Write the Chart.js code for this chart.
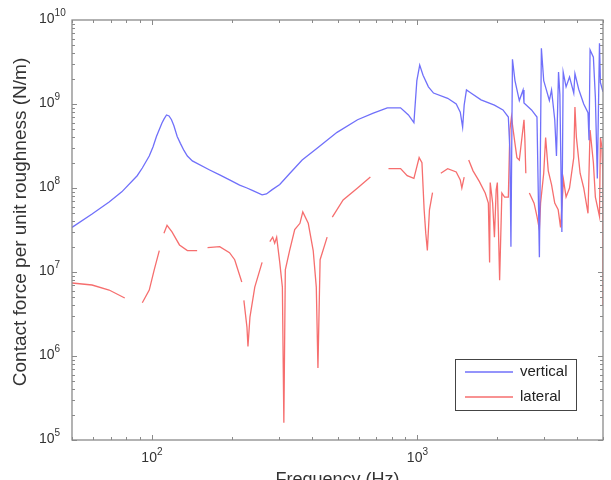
<!DOCTYPE html>
<html>
<head>
<meta charset="utf-8">
<script src="https://cdn.jsdelivr.net/npm/chart.js@4/dist/chart.umd.min.js"></script>
<style>
  body { margin: 0; background: #fff; }
  canvas { display: block; }
</style>
</head>
<body>
<canvas id="myChart" width="611" height="480"></canvas>
<script>
// frequency (Hz) and force per unit roughness (N/m)
const verticalFreq = [50, 59.5, 69, 77, 88, 92, 97.7, 101, 104, 109, 111, 113.5, 116, 118.5, 121, 124.5, 128, 132, 136, 142, 165, 180, 196, 214, 228, 240, 260, 270, 283, 303, 331, 368, 420, 498, 595, 682, 770, 864, 925, 970, 995, 1020, 1050, 1100, 1150, 1300, 1400, 1450, 1480, 1500, 1530, 1590, 1736, 1950, 2100, 2200, 2230, 2250, 2280, 2330, 2420, 2500, 2520, 2690, 2820, 2880, 2930, 2990, 3060, 3140, 3200, 3290, 3340, 3400, 3440, 3500, 3540, 3630, 3740, 3880, 3920, 4050, 4230, 4390, 4430, 4470, 4600, 4680, 4760, 4850, 4890, 5000];
const verticalForce = [3.4e7, 4.9e7, 6.8e7, 9e7, 1.4e8, 1.73e8, 2.4e8, 3.1e8, 4.1e8, 5.9e8, 6.6e8, 7.4e8, 7.2e8, 6.5e8, 5.5e8, 4.1e8, 3.4e8, 2.8e8, 2.4e8, 2.1e8, 1.64e8, 1.43e8, 1.25e8, 1.08e8, 1.0e8, 9.3e7, 8.3e7, 8.5e7, 9.5e7, 1.1e8, 1.5e8, 2.15e8, 3e8, 4.6e8, 6.5e8, 7.8e8, 9e8, 9e8, 7.4e8, 6e8, 1.9e9, 2.9e9, 2.2e9, 1.6e9, 1.35e9, 1.17e9, 1e9, 8e8, 5.3e8, 9.7e8, 1.47e9, 1.35e9, 1.12e9, 9.7e8, 8.5e8, 7e8, 2.8e8, 2e7, 3.4e9, 1.9e9, 1.1e9, 1.47e9, 1.03e9, 8.5e8, 7e8, 1.5e7, 4.6e9, 1.9e9, 1.47e9, 1.1e9, 1.47e9, 6.5e8, 2.4e8, 2.4e9, 1.3e9, 3e7, 2.4e9, 1.6e9, 2.1e9, 1.35e9, 2.3e9, 1.5e9, 1.0e9, 7.9e8, 3.7e8, 4.4e9, 3.6e9, 1.2e9, 1.3e8, 5.3e9, 1.8e9, 1.4e9];

// null = gap in the lateral curve
const lateralFreq = [50, 59.5, 69, 79, 85, 92, 97.7, 102, 106.6, 108.5, 111, 114, 119, 127, 136, 148, 155, 162, 180, 196, 205, 218, 220, 222, 228, 230, 234, 244, 260, 268, 278, 285, 290, 295, 303, 310, 314, 318, 330, 345, 361, 370, 388, 405, 416, 422, 430, 457, 466, 478, 525, 595, 665, 720, 778, 864, 915, 970, 1015, 1040, 1060, 1075, 1090, 1110, 1140, 1180, 1225, 1300, 1400, 1450, 1470, 1500, 1530, 1560, 1620, 1710, 1800, 1850, 1870, 1880, 1920, 1950, 1980, 2000, 2040, 2080, 2130, 2200, 2230, 2260, 2330, 2370, 2420, 2520, 2540, 2560, 2600, 2640, 2750, 2820, 2880, 2910, 2990, 3040, 3110, 3200, 3290, 3390, 3460, 3550, 3630, 3740, 3880, 3920, 3970, 4100, 4230, 4390, 4470, 4600, 4680, 4850, 4890, 4950, 4990, 5000];
const lateralForce = [7.4e6, 7e6, 6.1e6, 4.9e6, null, 4.3e6, 6.1e6, 1.06e7, 1.8e7, null, 2.9e7, 3.6e7, 3e7, 2.1e7, 1.8e7, 1.8e7, null, 1.95e7, 2e7, 1.7e7, 1.4e7, 7.6e6, null, 4.6e6, 2.2e6, 1.3e6, 2.9e6, 6.6e6, 1.3e7, null, 2.3e7, 2.6e7, 2.2e7, 2.6e7, 1.3e7, 6.6e6, 1.6e5, 1.06e7, 1.8e7, 3.2e7, 3.8e7, 5.2e7, 3.8e7, 1.8e7, 6.6e6, 7.2e5, 1.4e7, 2.6e7, null, 4.5e7, 7.2e7, 1e8, 1.35e8, null, 1.7e8, 1.7e8, 1.4e8, 1.3e8, 2.3e8, 2e8, 5.5e7, 2.9e7, 1.8e7, 5.5e7, 8.8e7, null, 1.5e8, 1.7e8, 1.55e8, 1.25e8, 1e8, 1.35e8, null, 2.15e8, 1.6e8, 1.2e8, 8.7e7, 6.6e7, 1.3e7, 1.16e8, 6.6e7, 2.6e7, 9.5e7, 1.16e8, 8e6, 8.7e7, 7.8e7, 7.8e7, 4.9e8, 7e8, 3.4e8, 2.3e8, 2.15e8, 6.5e8, 3.7e8, 1.5e8, null, 8.7e7, 6.6e7, 4.6e7, 3.2e7, 6.6e7, 1.5e8, 4e8, 1.6e8, 1.1e8, 6.6e7, 5.5e7, 3.4e7, 1.25e8, 7.8e7, 1e8, 2.3e8, 9.2e8, 4e8, 1.5e8, 1e8, 5e7, 4.9e8, 2e8, 7.8e7, 4.6e7, 4e8, 3.1e8, 1.6e8, 4e6];

const xTickValues = [100, 1000];
const xTickExps = ['2', '3'];
const yTickValues = [1e5, 1e6, 1e7, 1e8, 1e9, 1e10];
const yTickExps = ['5', '6', '7', '8', '9', '10'];

const FONT = '"Liberation Sans", Arial, sans-serif';
const TEXT = '#333';

function toPoints(xs, ys) {
  return xs.map((f, i) => ({ x: f, y: ys[i] }));
}

function drawPow(ctx, exp, x, y, align) {
  ctx.font = '14px ' + FONT;
  const w = ctx.measureText('10').width;
  ctx.font = '10px ' + FONT;
  const ws = ctx.measureText(exp).width;
  let left = x;
  if (align === 'center') left = x - (w + ws) / 2;
  ctx.textAlign = 'left';
  ctx.textBaseline = 'middle';
  ctx.font = '14px ' + FONT;
  ctx.fillText('10', left, y);
  ctx.font = '10px ' + FONT;
  ctx.fillText(exp, left + w, y - 6);
}

// box, inward ticks, tick labels, titles and legend
const axesBox = {
  id: 'axesBox',
  afterDatasetsDraw(chart) {
    const { ctx, chartArea: a, scales } = chart;
    const xs = scales.x, ys = scales.y;
    ctx.save();
    ctx.strokeStyle = '#8a8a8a';
    ctx.lineWidth = 1.3;
    ctx.strokeRect(a.left, a.top, a.right - a.left, a.bottom - a.top);

    ctx.beginPath();
    ctx.lineWidth = 1;
    for (let d = 1; d <= 3; d++) {
      for (let m = 1; m <= 9; m++) {
        const v = m * Math.pow(10, d);
        if (v < xs.min || v > xs.max) continue;
        const px = Math.round(xs.getPixelForValue(v)) + 0.5;
        const len = m === 1 ? 5 : 3;
        ctx.moveTo(px, a.bottom); ctx.lineTo(px, a.bottom - len);
        ctx.moveTo(px, a.top); ctx.lineTo(px, a.top + len);
      }
    }
    for (let d = 5; d <= 9; d++) {
      for (let m = 1; m <= 9; m++) {
        const v = m * Math.pow(10, d);
        const py = Math.round(ys.getPixelForValue(v)) + 0.5;
        const len = m === 1 ? 5 : 3;
        ctx.moveTo(a.left, py); ctx.lineTo(a.left + len, py);
        ctx.moveTo(a.right, py); ctx.lineTo(a.right - len, py);
      }
    }
    ctx.stroke();

    ctx.fillStyle = TEXT;
    xTickValues.forEach((v, i) => {
      drawPow(ctx, xTickExps[i], xs.getPixelForValue(v), a.bottom + 18, 'center');
    });
    yTickValues.forEach((v, i) => {
      drawPow(ctx, yTickExps[i], 39, ys.getPixelForValue(v) - 1, 'left');
    });

    // axis titles
    ctx.font = '18px ' + FONT;
    ctx.textAlign = 'center';
    ctx.textBaseline = 'alphabetic';
    ctx.fillText('Frequency (Hz)', (a.left + a.right) / 2, a.bottom + 45);
    ctx.save();
    ctx.translate(21, (a.top + a.bottom) / 2 - 8);
    ctx.rotate(-Math.PI / 2);
    ctx.font = '19px ' + FONT;
    ctx.textBaseline = 'middle';
    ctx.fillText('Contact force per unit roughness (N/m)', 0, 0);
    ctx.restore();

    // legend
    const lx = 455, ly = 359, lw = 121, lh = 51;
    ctx.fillStyle = '#fff';
    ctx.fillRect(lx, ly, lw, lh);
    ctx.strokeStyle = '#444';
    ctx.lineWidth = 1;
    ctx.strokeRect(lx + 0.5, ly + 0.5, lw, lh);
    chart.data.datasets.forEach((ds, i) => {
      const yy = ly + 13 + i * 25;
      ctx.strokeStyle = ds.borderColor;
      ctx.lineWidth = 1.3;
      ctx.beginPath();
      ctx.moveTo(lx + 10, yy);
      ctx.lineTo(lx + 58, yy);
      ctx.stroke();
      ctx.fillStyle = '#222';
      ctx.font = '15px ' + FONT;
      ctx.textAlign = 'left';
      ctx.textBaseline = 'middle';
      ctx.fillText(ds.label, lx + 65, yy);
    });
    ctx.restore();
  }
};

const ctx = document.getElementById('myChart');
const chart = new Chart(ctx, {
  type: 'line',
  data: {
    datasets: [
      {
        label: 'vertical',
        data: toPoints(verticalFreq, verticalForce),
        borderColor: 'rgb(112, 112, 250)',
        borderWidth: 1.3,
        pointRadius: 0,
        tension: 0,
        spanGaps: false
      },
      {
        label: 'lateral',
        data: toPoints(lateralFreq, lateralForce),
        borderColor: 'rgb(246, 110, 110)',
        borderWidth: 1.3,
        pointRadius: 0,
        tension: 0,
        spanGaps: false
      }
    ]
  },
  options: {
    responsive: false,
    animation: false,
    devicePixelRatio: 1,
    layout: { padding: { left: 72, right: 8, top: 20, bottom: 40 } },
    plugins: { legend: { display: false }, tooltip: { enabled: false } },
    scales: {
      x: { type: 'logarithmic', min: 50, max: 5000, display: false },
      y: { type: 'logarithmic', min: 1e5, max: 1e10, display: false }
    }
  },
  plugins: [axesBox]
});
</script>
</body>
</html>
